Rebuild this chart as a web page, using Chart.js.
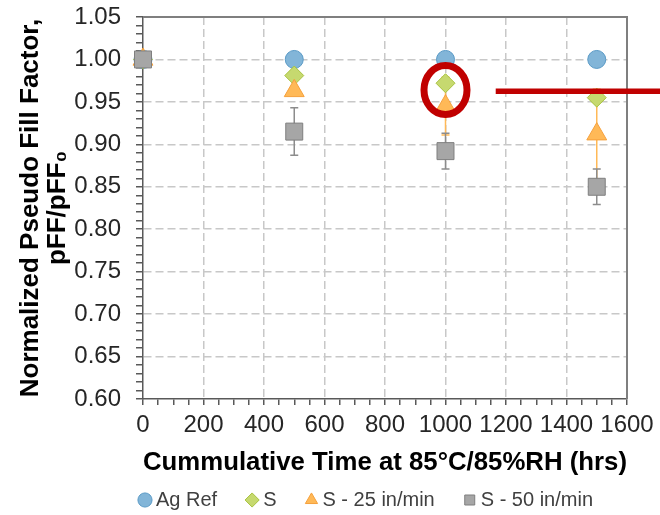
<!DOCTYPE html>
<html>
<head>
<meta charset="utf-8">
<script src="https://cdn.jsdelivr.net/npm/chart.js@4/dist/chart.umd.min.js"></script>
<style>
  html, body { margin: 0; padding: 0; background: #fff; }
  #wrap { width: 660px; height: 515px; }
</style>
</head>
<body>
<div id="wrap"><canvas id="pff"></canvas></div>
<script>
// hours at 85C/85%RH
const times = [0, 500, 1000, 1500];

// normalized pFF per sample
const agRef = [1.00, 1.00, 1.00, 1.00];
const sVals = [1.00, 0.981, 0.972, 0.955];
const s25Vals = [1.00, 0.963, 0.945, 0.912];
const s50Vals = [1.00, 0.915, 0.892, 0.850];

// +/- spread
const s25Err = [0, 0.004, 0.034, 0.053];
const s50Err = [0, 0.028, 0.021, 0.021];

// highlight marks (ring around the S point at 1000 h, pointer line)
const ringAt = { x: 1000, y: 0.964 };
const pointerStart = { x: 1166, y: 0.9625 };

const FONT = "'Liberation Sans', Arial, sans-serif";
const RED = '#c00000';

const toPts = vals => vals.map((v, i) => ({ x: times[i], y: v }));

const errorBars = {
  id: 'errorBars',
  beforeDatasetsDraw(chart) {
    const { ctx, scales: { x, y } } = chart;
    chart.data.datasets.forEach(ds => {
      if (!ds.errors) return;
      ctx.save();
      ctx.strokeStyle = ds.errorColor;
      ctx.lineWidth = 1.5;
      ds.errors.forEach((e, i) => {
        if (!e) return;
        const px = x.getPixelForValue(times[i]);
        const top = y.getPixelForValue(ds.data[i].y + e);
        const bot = y.getPixelForValue(ds.data[i].y - e);
        ctx.beginPath();
        ctx.moveTo(px, top); ctx.lineTo(px, bot);
        ctx.moveTo(px - 4, top); ctx.lineTo(px + 4, top);
        ctx.moveTo(px - 4, bot); ctx.lineTo(px + 4, bot);
        ctx.stroke();
      });
      ctx.restore();
    });
  }
};

const frame = {
  id: 'frame',
  afterDatasetsDraw(chart) {
    const { ctx, chartArea: a } = chart;
    ctx.save();
    ctx.strokeStyle = '#7f7f7f';
    ctx.lineWidth = 2;
    ctx.beginPath();
    ctx.moveTo(a.left, a.top); ctx.lineTo(a.right, a.top); ctx.lineTo(a.right, a.bottom);
    ctx.stroke();
    ctx.restore();
  }
};

const callout = {
  id: 'callout',
  afterDraw(chart) {
    const { ctx, scales: { x, y } } = chart;
    ctx.save();
    ctx.strokeStyle = RED;
    ctx.lineWidth = 7;
    ctx.beginPath();
    ctx.ellipse(x.getPixelForValue(ringAt.x), y.getPixelForValue(ringAt.y), 21.5, 24.5, 0, 0, Math.PI * 2);
    ctx.stroke();
    ctx.lineWidth = 5.5;
    const ly = y.getPixelForValue(pointerStart.y);
    ctx.beginPath();
    ctx.moveTo(x.getPixelForValue(pointerStart.x), ly);
    ctx.lineTo(chart.width, ly);
    ctx.stroke();
    ctx.restore();
  }
};

const isMajorY = v => Math.round(v * 100) % 5 === 0;
const isMajorX = v => Math.round(v) % 200 === 0;

new Chart(document.getElementById('pff'), {
  type: 'scatter',
  data: {
    datasets: [
      {
        label: 'Ag Ref',
        data: toPts(agRef),
        pointStyle: 'circle',
        pointRadius: 9,
        pointHoverRadius: 9,
        backgroundColor: '#82b5d8',
        borderColor: '#5a9ac6',
        borderWidth: 1,
        order: 3,
        clip: false,
      },
      {
        label: 'S',
        data: toPts(sVals),
        pointStyle: 'rectRot',
        pointRadius: 9.5,
        pointHoverRadius: 9.5,
        backgroundColor: '#c6d96f',
        borderColor: '#a8c23f',
        borderWidth: 1,
        order: 2,
        clip: false,
      },
      {
        label: 'S - 25 in/min',
        data: toPts(s25Vals),
        pointStyle: 'triangle',
        pointRadius: 11.5,
        pointHoverRadius: 11.5,
        backgroundColor: '#ffb957',
        borderColor: '#f5a03c',
        borderWidth: 1,
        errors: s25Err,
        errorColor: '#ffb957',
        order: 1,
        clip: false,
      },
      {
        label: 'S - 50 in/min',
        data: toPts(s50Vals),
        pointStyle: 'rect',
        pointRadius: 12,
        pointHoverRadius: 12,
        backgroundColor: '#a6a6a6',
        borderColor: '#7f7f7f',
        borderWidth: 1,
        errors: s50Err,
        errorColor: '#8c8c8c',
        order: 0,
        clip: false,
      },
    ],
  },
  options: {
    responsive: true,
    maintainAspectRatio: false,
    animation: false,
    layout: { padding: { top: 17, right: 33, left: 0, bottom: -5 } },
    plugins: {
      legend: {
        position: 'bottom',
        align: 'end',
        labels: {
          usePointStyle: true,
          boxWidth: 2,
          boxHeight: 10,
          padding: 34,
          color: '#404040',
          font: { family: FONT, size: 20 },
          sort: (a, b) => a.datasetIndex - b.datasetIndex,
        },
      },
      tooltip: { enabled: false },
    },
    scales: {
      x: {
        type: 'linear',
        min: 0,
        max: 1600,
        afterFit: s => { s.height = 57; s.paddingLeft = 0; s.paddingRight = 0; },
        ticks: {
          stepSize: 50,
          autoSkip: false,
          maxRotation: 0,
          minRotation: 0,
          padding: 6,
          color: '#262626',
          font: { family: FONT, size: 24 },
          callback: v => (isMajorX(v) ? String(v) : ''),
        },
        grid: {
          color: c => (isMajorX(c.tick.value) && c.tick.value > 0 && c.tick.value < 1600 ? '#c8c8c8' : 'rgba(0,0,0,0)'),
          lineWidth: 1.5,
          tickColor: '#595959',
          tickLength: 6,
          tickWidth: 1.5,
          tickBorderDash: [],
        },
        border: { color: '#595959', width: 1.5, dash: [8, 4] },
        title: {
          display: true,
          text: 'Cummulative Time at 85°C/85%RH (hrs)',
          color: '#000',
          font: { family: FONT, size: 26, weight: 'bold', lineHeight: 1.1 },
          padding: { top: 4, bottom: -21 },
        },
      },
      y: {
        min: 0.6,
        max: 1.05,
        afterFit: s => { s.width = 143; s.paddingTop = 0; s.paddingBottom = 0; },
        ticks: {
          stepSize: 0.01,
          autoSkip: false,
          padding: 15,
          color: '#262626',
          font: { family: FONT, size: 24 },
          callback: v => (isMajorY(v) ? v.toFixed(2) : ''),
        },
        grid: {
          color: c => (isMajorY(c.tick.value) && c.tick.value > 0.605 ? '#c8c8c8' : 'rgba(0,0,0,0)'),
          lineWidth: 1.5,
          tickColor: '#595959',
          tickLength: 7,
          tickWidth: 1.5,
          tickBorderDash: [],
        },
        border: { color: '#595959', width: 1.5, dash: [8, 4] },
        title: {
          display: true,
          text: ['Normalized Pseudo Fill Factor,', 'pFF/pFF₀'],
          color: '#000',
          font: { family: FONT, size: 26, weight: 'bold', lineHeight: 1.05 },
          padding: { top: 17, bottom: 4 },
        },
      },
    },
  },
  plugins: [errorBars, frame, callout],
});
</script>
</body>
</html>
